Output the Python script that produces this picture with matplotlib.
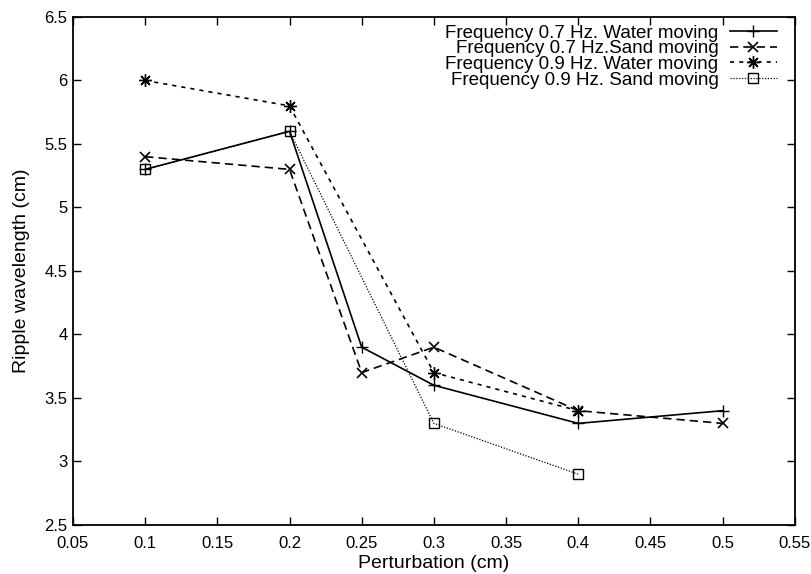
import matplotlib
matplotlib.use("Agg")
import matplotlib.pyplot as plt

# --- DATA ---
pert_07 = [0.1, 0.2, 0.25, 0.3, 0.4, 0.5]
water_07 = [5.3, 5.6, 3.9, 3.6, 3.3, 3.4]
sand_07 = [5.4, 5.3, 3.7, 3.9, 3.4, 3.3]

pert_09 = [0.1, 0.2, 0.3, 0.4]
water_09 = [6.0, 5.8, 3.7, 3.4]
sand_09 = [5.3, 5.6, 3.3, 2.9]

labels = ["Frequency 0.7 Hz. Water moving",
          "Frequency 0.7 Hz.Sand moving",
          "Frequency 0.9 Hz. Water moving",
          "Frequency 0.9 Hz. Sand moving"]

xticks = [0.05, 0.1, 0.15, 0.2, 0.25, 0.3, 0.35, 0.4, 0.45, 0.5, 0.55]
xtick_labels = ["0.05", "0.1", "0.15", "0.2", "0.25", "0.3", "0.35", "0.4", "0.45", "0.5", "0.55"]
yticks = [2.5, 3, 3.5, 4, 4.5, 5, 5.5, 6, 6.5]
ytick_labels = ["2.5", "3", "3.5", "4", "4.5", "5", "5.5", "6", "6.5"]

plt.rcParams['font.family'] = ['Liberation Sans', 'DejaVu Sans']

# --- RYSOWANIE ---
fig = plt.figure(figsize=(8.11, 5.74), dpi=100)
ax = fig.add_axes([0.090, 0.0854, 0.890, 0.8850])

lw = 1.2
ax.plot(pert_07, water_07, color='black', lw=lw, ls='-',
        marker='+', ms=9, mew=1.0, label=labels[0])
ax.plot(pert_07, sand_07, color='black', lw=lw, ls=(0, (5, 3)),
        marker='x', ms=7, mew=1.2, label=labels[1])
ax.plot(pert_09, water_09, color='black', lw=lw, ls=(0, (2.5, 3)),
        marker=(8, 2, 0), ms=9, mew=1.0, label=labels[2])
ax.plot(pert_09, sand_09, color='black', lw=0.9, ls=(0, (1, 1.3)),
        marker='s', ms=6.5, mew=1.0, mfc='none', mec='black', label=labels[3])

ax.set_xlim(0.05, 0.55)
ax.set_ylim(2.5, 6.5)
ax.set_xticks(xticks)
ax.set_xticklabels(xtick_labels)
ax.set_yticks(yticks)
ax.set_yticklabels(ytick_labels)
ax.tick_params(direction='in', length=6, width=1.0, top=True, right=True,
               labelsize=12, pad=4)
ax.tick_params(axis='x', pad=8)
for s in ax.spines.values():
    s.set_linewidth(1.3)

ax.set_xlabel("Perturbation (cm)", fontsize=14, labelpad=3)
ax.set_ylabel("Ripple wavelength (cm)", fontsize=14, labelpad=10)

ax.legend(loc='upper right', bbox_to_anchor=(0.975, 0.985), markerfirst=False,
          frameon=False, fontsize=13.5, borderpad=0, labelspacing=-0.08,
          handlelength=2.5, handletextpad=0.6, borderaxespad=0)

fig.savefig("out.png", dpi=100)
